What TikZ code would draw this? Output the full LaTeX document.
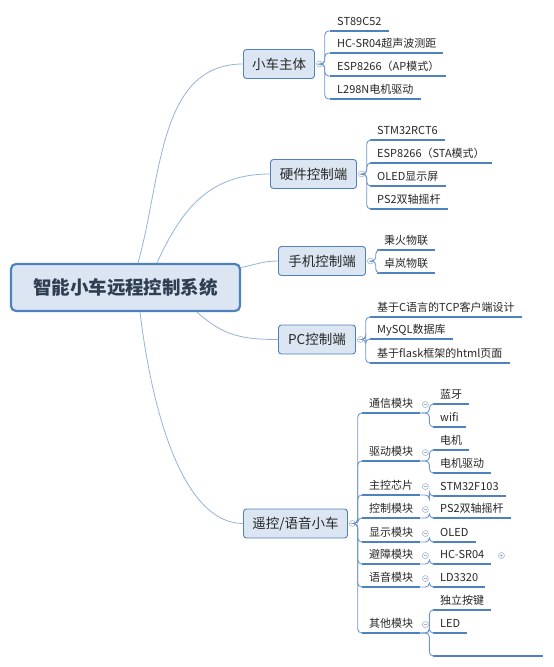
\documentclass[tikz,border=0pt]{standalone}
\usepackage{fontspec}
\setmainfont{Noto Sans CJK SC}
\usepackage{xcolor}
\usepackage{tikz}

\definecolor{boxfill}{HTML}{DCE6F2}
\definecolor{boxline}{HTML}{4F81BD}
\definecolor{rootline}{HTML}{95B3D7}
\definecolor{brline}{HTML}{6D97CE}
\definecolor{markline}{HTML}{A3B5CC}
\definecolor{roottext}{HTML}{2F3E52}

\tikzset{
    rootbox/.style={draw=boxline, line width=2.2pt, fill=boxfill, rounded corners=5pt,
        minimum width=229pt, minimum height=47pt, text=roottext,
        font=\fontsize{18.5}{20}\selectfont\bfseries},
    mainbox/.style={draw=boxline, line width=0.9pt, fill=boxfill, rounded corners=3pt,
        minimum height=29pt, inner xsep=6pt, text=black!85,
        font=\fontsize{13.5}{15}\selectfont},
    leaf/.style={anchor=south west, inner xsep=7pt, inner ysep=3pt,
        text height=8pt, text depth=2.5pt, text=black!85,
        font=\fontsize{11}{13}\selectfont},
    midleaf/.style={leaf, minimum width=56pt},
    uline/.style={draw=boxline, line width=1.5pt},
    rootcurve/.style={draw=rootline, line width=0.8pt},
    bracket/.style={draw=brline, line width=0.9pt, rounded corners=4pt},
    marker/.style={circle, draw=markline, fill=white, line width=0.6pt,
        inner sep=0pt, minimum size=6pt,
        path picture={\draw[markline, line width=0.6pt]
            ([xshift=1.5pt]path picture bounding box.west) --
            ([xshift=-1.5pt]path picture bounding box.east);}},
    foldmark/.style={circle, draw=markline, fill=white, line width=0.6pt,
        inner sep=0pt, minimum size=6pt,
        path picture={\fill[markline] (path picture bounding box.center) circle (1.3pt);}},
}

\begin{document}
\begin{tikzpicture}[x=1pt, y=-1pt]
    \useasboundingbox (0,0) rectangle (554,667);

    % Root and main topics
    \node[rootbox] (root) at (125.5,287.5) {智能小车远程控制系统};
    \node[mainbox, minimum width=71pt] (b1) at (279,64) {小车主体};
    \node[mainbox, minimum width=86pt] (b2) at (313.5,174) {硬件控制端};
    \node[mainbox, minimum width=87pt] (b3) at (322,261) {手机控制端};
    \node[mainbox, minimum width=77pt] (b4) at (317,339.5) {PC控制端};
    \node[mainbox, minimum width=104pt] (b5) at (295.5,523.5) {遥控/语音小车};

    % Curves from the root
    \draw[rootcurve] ([xshift=12.5pt]root.north) .. controls +(24,-85) and +(-85,0) .. (b1.west);
    \draw[rootcurve] ([xshift=31.5pt]root.north) .. controls +(25,-55) and +(-60,0) .. (b2.west);
    \draw[rootcurve] ([yshift=20pt]root.east) .. controls +(15,-3) and +(-15,0) .. (b3.west);
    \draw[rootcurve] ([xshift=71.5pt]root.south) .. controls +(25,22) and +(-40,0) .. (b4.west);
    \draw[rootcurve] ([xshift=14.5pt]root.south) .. controls +(12,100) and +(-60,0) .. (b5.west);

    % Leaves of 小车主体
    \node[leaf] (a1) at (330,31) {ST89C52};
    \node[leaf] (a2) at (330,53) {HC-SR04超声波测距};
    \node[leaf] (a3) at (330,76) {ESP8266（AP模式）};
    \node[leaf] (a4) at (330,99) {L298N电机驱动};

    % Leaves of 硬件控制端
    \node[leaf] (c1) at (370,140) {STM32RCT6};
    \node[leaf] (c2) at (370,163) {ESP8266（STA模式）};
    \node[leaf] (c3) at (370,186) {OLED显示屏};
    \node[leaf] (c4) at (370,209) {PS2双轴摇杆};

    % Leaves of 手机控制端
    \node[leaf] (d1) at (377,250) {秉火物联};
    \node[leaf] (d2) at (377,273) {卓岚物联};

    % Leaves of PC控制端
    \node[leaf] (e1) at (370,317) {基于C语言的TCP客户端设计};
    \node[leaf] (e2) at (370,339) {MySQL数据库};
    \node[leaf] (e3) at (370,363) {基于flask框架的html页面};

    % Modules of 遥控/语音小车
    \node[midleaf] (m1) at (362,413) {通信模块};
    \node[midleaf] (m2) at (362,461) {驱动模块};
    \node[midleaf] (m3) at (362,495) {主控芯片};
    \node[midleaf] (m4) at (362,518) {控制模块};
    \node[midleaf] (m5) at (362,542) {显示模块};
    \node[midleaf] (m6) at (362,564) {避障模块};
    \node[midleaf] (m7) at (362,587) {语音模块};
    \node[midleaf] (m8) at (362,633) {其他模块};

    % Parts of each module
    \node[leaf] (n1) at (433,404) {蓝牙};
    \node[leaf] (n2) at (433,427) {wifi};
    \node[leaf] (n3) at (433,450) {电机};
    \node[leaf] (n4) at (433,473) {电机驱动};
    \node[leaf] (n5) at (433,496) {STM32F103};
    \node[leaf] (n6) at (433,518) {PS2双轴摇杆};
    \node[leaf] (n7) at (433,542) {OLED};
    \node[leaf] (n8) at (433,564) {HC-SR04};
    \node[leaf] (n9) at (433,587) {LD3320};
    \node[leaf] (n10) at (433,610) {独立按键};
    \node[leaf] (n11) at (433,633) {LED};
    \node[leaf, minimum width=110pt] (n12) at (433,656) {};

    % Underlines
    \foreach \n in {a1,a2,a3,a4,c1,c2,c3,c4,d1,d2,e1,e2,e3,
                    m1,m2,m3,m4,m5,m6,m7,m8,n1,n2,n3,n4,n5,n6,n7,n8,n9,n10,n11,n12}
        \draw[uline] (\n.south west) -- (\n.south east);

    % Fold markers
    \foreach \b in {b1,b2,b3,b4,b5}
        \node[marker] (\b m) at ([xshift=4.5pt]\b.east) {};
    \foreach \m in {m1,m2,m3,m4,m5,m6,m7,m8}
        \node[marker] (\m m) at ([xshift=5pt]\m.east) {};
    \node[foldmark] (n8m) at ([xshift=10pt]n8.east) {};

    % Brackets to the leaves
    \foreach \n in {a1,a2,a3,a4}
        \draw[bracket] (b1m.east) -- ++(2,0) |- (\n.south west);
    \foreach \n in {c1,c2,c3,c4}
        \draw[bracket] (b2m.east) -- ++(2,0) |- (\n.south west);
    \foreach \n in {d1,d2}
        \draw[bracket] (b3m.east) -- ++(2,0) |- (\n.south west);
    \foreach \n in {e1,e2,e3}
        \draw[bracket] (b4m.east) -- ++(2,0) |- (\n.south west);
    \foreach \n in {m1,m2,m3,m4,m5,m6,m7,m8}
        \draw[bracket] (b5m.east) -- ++(2,0) |- (\n.south west);

    % Module to part
    \foreach \m/\n in {m1/n1,m1/n2,m2/n3,m2/n4,m3/n5,m4/n6,m5/n7,m6/n8,m7/n9,m8/n10,m8/n11,m8/n12}
        \draw[bracket] (\m.south east) -- ++(9,0) |- (\n.south west);
\end{tikzpicture}
\end{document}
